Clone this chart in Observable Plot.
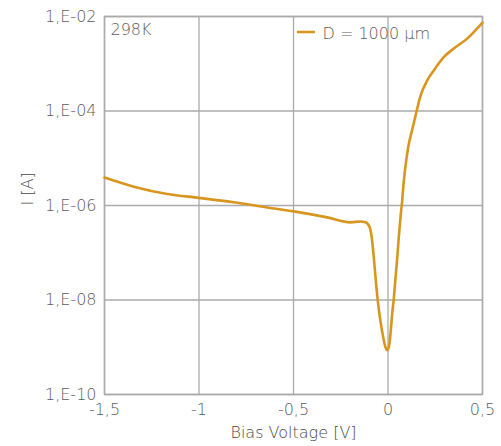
<!DOCTYPE html>
<html>
<head>
<meta charset="utf-8">
<script src="https://cdn.jsdelivr.net/npm/d3@7"></script>
<script src="https://cdn.jsdelivr.net/npm/@observablehq/plot@0.6"></script>
<style>
  html, body { margin: 0; padding: 0; background: #fff; }
  #chart svg { font-family: "DejaVu Sans", Lato, sans-serif; font-weight: 200; }
</style>
</head>
<body>
<div id="chart"></div>
<script>
// Bias voltage [V]
const voltage = [-1.5, -1.345, -1.168, -1.001, -0.816, -0.640, -0.498, -0.322, -0.198, -0.146, -0.119, -0.096, -0.084, -0.075, -0.066, -0.054, -0.040, -0.025, -0.013, -0.004, 0.004, 0.013, 0.022, 0.031, 0.040, 0.049, 0.057, 0.066, 0.075, 0.084, 0.098, 0.110, 0.128, 0.1455, 0.172, 0.207, 0.242, 0.295, 0.348, 0.419, 0.5];
// Current I [A]
const current = [3.9e-6, 2.5e-6, 1.75e-6, 1.45e-6, 1.17e-6, 9.1e-7, 7.5e-7, 5.6e-7, 4.4e-7, 4.6e-7, 4.4e-7, 3.4e-7, 1.8e-7, 7.9e-8, 3.0e-8, 9.6e-9, 3.6e-9, 1.6e-9, 9.9e-10, 8.7e-10, 9.9e-10, 1.9e-9, 5.0e-9, 1.1e-8, 3.0e-8, 7.9e-8, 2.1e-7, 5.6e-7, 1.26e-6, 3.4e-6, 1.0e-5, 2.0e-5, 4.0e-5, 7.9e-5, 2.1e-4, 4.4e-4, 7.2e-4, 1.38e-3, 2.1e-3, 3.4e-3, 7.4e-3];
const xTicks = [-1.5, -1, -0.5, 0, 0.5];
const xTickLabels = ["-1,5", "-1", "-0,5", "0", "0,5"];
const yTicks = [1e-10, 1e-8, 1e-6, 1e-4, 1e-2];
const yTickLabels = ["1,E-10", "1,E-08", "1,E-06", "1,E-04", "1,E-02"];
const seriesName = "D = 1000 µm";
const temperature = "298K";
const xLabel = "Bias Voltage [V]";
const yLabel = "I [A]";

const data = voltage.map((v, i) => ({v, i: current[i]}));
const color = "#d8961e";
const gridColor = "#ababab";
const textColor = "#5c5c5c";
const fmtX = d => xTickLabels[xTicks.indexOf(d)];
const fmtY = d => yTickLabels[yTicks.findIndex(t => Math.abs(Math.log10(t) - Math.log10(d)) < 1e-6)];
const fs = 16;

const chart = Plot.plot({
  width: 501,
  height: 446,
  marginLeft: 104,
  marginRight: 19,
  marginTop: 16,
  marginBottom: 52,
  style: {fontSize: fs + "px", color: textColor, background: "#fff"},
  x: {domain: [-1.5, 0.5], label: null},
  y: {type: "log", domain: [1e-10, 1e-2], label: null},
  marks: [
    Plot.gridX(xTicks, {stroke: gridColor, strokeOpacity: 1, strokeWidth: 1.3}),
    Plot.gridY(yTicks, {stroke: gridColor, strokeOpacity: 1, strokeWidth: 1.3}),
    Plot.frame({stroke: gridColor, strokeWidth: 1.5}),
    Plot.axisX(xTicks, {tickSize: 0, tickPadding: 9, fontSize: fs, fill: textColor, label: null, tickFormat: fmtX}),
    Plot.axisY(yTicks, {tickSize: 0, tickPadding: 8, fontSize: fs, fill: textColor, label: null, tickFormat: fmtY}),
    Plot.line(data, {x: "v", y: "i", stroke: color, strokeWidth: 2.6, curve: "monotone-x"}),
    Plot.text([xLabel], {frameAnchor: "bottom", dy: 43, fontSize: fs, fill: "#4a4a4a"}),
    Plot.text([yLabel], {frameAnchor: "left", dx: -77, rotate: -90, fontSize: fs, fill: "#4a4a4a"}),
    Plot.text([temperature], {frameAnchor: "top-left", lineAnchor: "middle", dx: 6, dy: 13, textAnchor: "start", fontSize: fs, fill: textColor}),
    Plot.text([seriesName], {frameAnchor: "top-left", lineAnchor: "middle", dx: 218, dy: 17, textAnchor: "start", fontSize: fs, fill: textColor})
  ]
});

// legend swatch
d3.select(chart).append("line")
  .attr("x1", 297).attr("x2", 315)
  .attr("y1", 32).attr("y2", 32)
  .attr("stroke", color).attr("stroke-width", 2.6);

document.getElementById("chart").appendChild(chart);
</script>
</body>
</html>
